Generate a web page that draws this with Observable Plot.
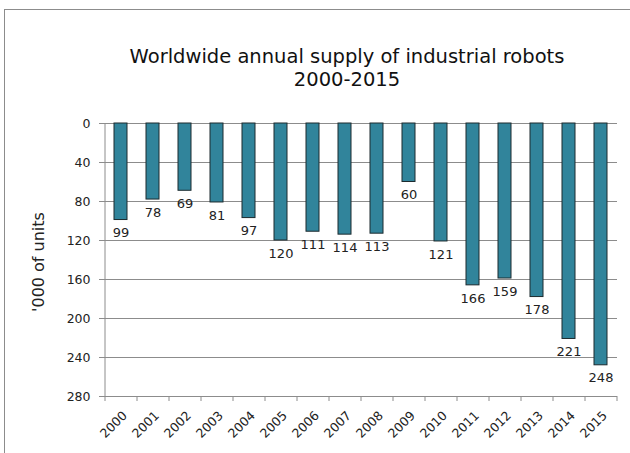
<!DOCTYPE html>
<html><head><meta charset="utf-8">
<script src="https://cdn.jsdelivr.net/npm/d3@7"></script>
<script src="https://cdn.jsdelivr.net/npm/@observablehq/plot@0.6"></script>
<style>
body{margin:0;background:#fff;font-family:"DejaVu Sans",Verdana,sans-serif;}
#wrap{position:relative;width:630px;height:453px;overflow:hidden;}
#border{position:absolute;left:4px;top:9px;width:700px;height:600px;border-left:1px solid #8c8c8c;border-top:1px solid #8c8c8c;}
#title{position:absolute;left:0;width:694px;top:45px;text-align:center;font-size:19.5px;line-height:23px;color:#111;}
#chart{position:absolute;left:0;top:0;}
</style></head>
<body>
<div id="wrap"><div id="border"></div><div id="title">Worldwide annual supply of industrial robots<br>2000-2015</div><div id="chart"></div></div>
<script>
const years = ["2000","2001","2002","2003","2004","2005","2006","2007","2008","2009","2010","2011","2012","2013","2014","2015"];
const units = [99,78,69,81,97,120,111,114,113,60,121,166,159,178,221,248];
const yTicks = [0,40,80,120,160,200,240,280];
const yLabel = "'000 of units";

const data = years.map((y,i)=>({year:y, value:units[i]}));
const font = "DejaVu Sans, Verdana, sans-serif";
const plot = Plot.plot({
  width:630, height:453,
  marginLeft:104, marginRight:13, marginTop:123, marginBottom:57,
  style:{fontFamily:font, fontSize:"12px", color:"#222", background:"transparent"},
  x:{domain:years, paddingInner:0.6, paddingOuter:0.3},
  y:{domain:[0,280], reverse:true},
  marks:[
    Plot.gridY(yTicks, {stroke:"#8c8c8c", strokeOpacity:1}),
    Plot.ruleX([years[0]], {dx:-16, stroke:"#8c8c8c", y1:0, y2:280}),
    Plot.axisY(yTicks, {tickSize:5, tickPadding:9, stroke:"#8c8c8c", fill:"#222", fontSize:12.5, label:null}),
    Plot.axisX({tickSize:5, dx:-16, text:null, stroke:"#8c8c8c", label:null}),
    Plot.axisX([years[years.length-1]], {tickSize:5, dx:16, text:null, stroke:"#8c8c8c", label:null}),
    Plot.axisX({tickSize:0, tickPadding:17, tickRotate:-45, dx:4, fill:"#222", fontSize:12.5, label:null}),
    Plot.barY(data, {x:"year", y1:0, y2:"value", fill:"#31849B", stroke:"#1c2a2e", strokeWidth:1}),
    Plot.text(data, {x:"year", y:"value", text:d=>String(d.value), dy:13, fill:"#222", fontSize:13}),
    Plot.text([yLabel], {frameAnchor:"left", textAnchor:"middle", dx:-66, dy:2, rotate:-90, fontSize:16, fill:"#222"})
  ]
});
document.getElementById("chart").appendChild(plot);
</script>
</body></html>
